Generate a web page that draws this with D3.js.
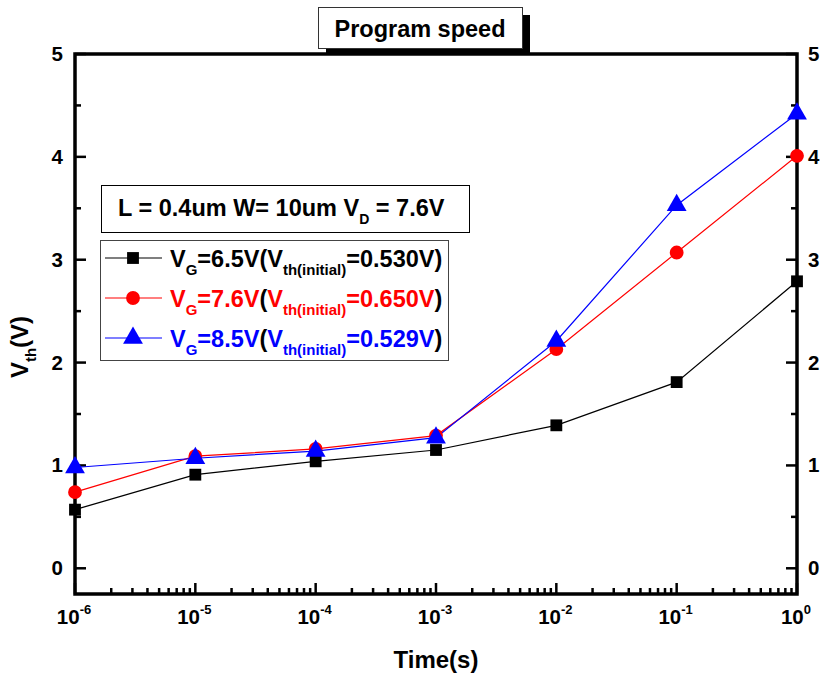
<!DOCTYPE html>
<html><head><meta charset="utf-8">
<script src="https://cdn.jsdelivr.net/npm/d3@7"></script>
<style>body{margin:0;background:#fff}svg{display:block}text{font-family:"Liberation Sans",Arial,sans-serif;font-weight:bold}</style>
</head><body><svg id="c" width="823" height="675"></svg>
<script>
const times = [1e-6, 1e-5, 1e-4, 1e-3, 1e-2, 1e-1, 1];
const vg65 = [0.57, 0.91, 1.04, 1.15, 1.39, 1.81, 2.79];
const vg76 = [0.74, 1.09, 1.16, 1.29, 2.13, 3.07, 4.01];
const vg85 = [0.98, 1.07, 1.14, 1.27, 2.21, 3.53, 4.42];
const yTicks = [0, 1, 2, 3, 4, 5];
const xTickExp = [-6, -5, -4, -3, -2, -1, 0];
const seriesNames = ["6.5V", "7.6V", "8.5V"];
const seriesInit = ["0.530V", "0.650V", "0.529V"];
const colors = ["#000000", "#ff0000", "#0000ff"];
const shapes = [d3.symbolSquare, d3.symbolCircle, d3.symbolTriangle];
const sizes = [140, 150, 170];

const svg = d3.select("#c");
const L = 75, R = 797, T = 54, B = 594;
const x = d3.scaleLog().domain([1e-6, 1]).range([L, R]);
const y = d3.scaleLinear().domain([-0.25, 5]).range([B, T]);

// title box with shadow
svg.append("rect").attr("x", 326).attr("y", 15).attr("width", 204).attr("height", 39).attr("fill", "#000");
svg.append("rect").attr("x", 318.5).attr("y", 7.5).attr("width", 204).attr("height", 41).attr("fill", "#fff").attr("stroke", "#333").attr("stroke-width", 1);
svg.append("text").attr("x", 420).attr("y", 37).attr("text-anchor", "middle").attr("font-size", 23.5).text("Program speed");

// ticks
const g = svg.append("g");
const yMinor = d3.range(-0.5, 5.01, 0.5).filter(v => v >= -0.25 && v <= 5);
yMinor.forEach(v => {
  const major = Math.abs(v - Math.round(v)) < 1e-9;
  const len = major ? 11 : 6;
  g.append("line").attr("x1", L).attr("x2", L + len).attr("y1", y(v)).attr("y2", y(v)).attr("stroke", "#000").attr("stroke-width", 2.5);
  g.append("line").attr("x1", R).attr("x2", R - len).attr("y1", y(v)).attr("y2", y(v)).attr("stroke", "#000").attr("stroke-width", 2.5);
});
xTickExp.forEach(e => {
  const base = Math.pow(10, e);
  g.append("line").attr("x1", x(base)).attr("x2", x(base)).attr("y1", B).attr("y2", B - 11).attr("stroke", "#000").attr("stroke-width", 2.5);
  if (e < 0) for (let k = 2; k <= 9; k++) {
    const v = base * k;
    g.append("line").attr("x1", x(v)).attr("x2", x(v)).attr("y1", B).attr("y2", B - 6).attr("stroke", "#000").attr("stroke-width", 2.5);
  }
});

// frame
svg.append("rect").attr("x", L).attr("y", T).attr("width", R - L).attr("height", B - T).attr("fill", "none").attr("stroke", "#000").attr("stroke-width", 3.5);

// y tick labels
yTicks.forEach(v => {
  svg.append("text").attr("x", L - 12).attr("y", y(v) + 7).attr("text-anchor", "end").attr("font-size", 20.5).text(v);
  svg.append("text").attr("x", R + 11).attr("y", y(v) + 7).attr("text-anchor", "start").attr("font-size", 20.5).text(v);
});
// x tick labels
xTickExp.forEach(e => {
  const t = svg.append("text").attr("x", x(Math.pow(10, e)) - 1).attr("y", 624).attr("text-anchor", "middle").attr("font-size", 20.5);
  t.append("tspan").text("10");
  t.append("tspan").attr("font-size", 13).attr("dy", -10).text(e);
});

// axis titles
svg.append("text").attr("x", 436).attr("y", 668).attr("text-anchor", "middle").attr("font-size", 24).text("Time(s)");
const yl = svg.append("text").attr("transform", "translate(28,347) rotate(-90)").attr("text-anchor", "middle").attr("font-size", 24);
yl.append("tspan").text("V");
yl.append("tspan").attr("font-size", 15).attr("dy", 8).text("th");
yl.append("tspan").attr("dy", -8).text("(V)");

// series
const allSeries = [vg65, vg76, vg85];
const line = d3.line().x((d, i) => x(times[i])).y(d => y(d));
allSeries.forEach((s, k) => {
  svg.append("path").attr("d", line(s)).attr("fill", "none").attr("stroke", colors[k]).attr("stroke-width", 1.2);
});
allSeries.forEach((s, k) => {
  s.forEach((v, i) => {
    svg.append("path").attr("d", d3.symbol().type(shapes[k]).size(sizes[k])()).attr("transform", `translate(${x(times[i])},${y(v)})`).attr("fill", colors[k]);
  });
});

// annotation box
svg.append("rect").attr("x", 101.5).attr("y", 185.5).attr("width", 368).attr("height", 47).attr("fill", "#fff").attr("stroke", "#000").attr("stroke-width", 1);
const an = svg.append("text").attr("x", 118).attr("y", 216).attr("font-size", 23.5);
an.append("tspan").text("L = 0.4um W= 10um V");
an.append("tspan").attr("font-size", 14).attr("dy", 8).text("D");
an.append("tspan").attr("dy", -8).text(" = 7.6V");

// legend
svg.append("rect").attr("x", 100.5).attr("y", 240.5).attr("width", 348).attr("height", 120).attr("fill", "#fff").attr("stroke", "#444").attr("stroke-width", 1);
const rowsY = [258, 298, 338];
seriesNames.forEach((nm, k) => {
  const ry = rowsY[k];
  svg.append("line").attr("x1", 105).attr("x2", 162).attr("y1", ry).attr("y2", ry).attr("stroke", colors[k]).attr("stroke-width", 1.2);
  svg.append("path").attr("d", d3.symbol().type(shapes[k]).size(sizes[k])()).attr("transform", `translate(133,${ry})`).attr("fill", colors[k]);
  const t = svg.append("text").attr("x", 170).attr("y", ry + 9).attr("font-size", 23.5).attr("fill", colors[k]);
  t.append("tspan").text("V");
  t.append("tspan").attr("font-size", 15).attr("dy", 8).text("G");
  t.append("tspan").attr("dy", -8).text("=" + nm);
  t.append("tspan").attr("fill", "#000").text("(");
  t.append("tspan").text("V");
  t.append("tspan").attr("font-size", 15).attr("dy", 8).text("th(initial)");
  t.append("tspan").attr("dy", -8).text("=" + seriesInit[k]);
  t.append("tspan").attr("fill", "#000").text(")");
});
</script></body></html>
